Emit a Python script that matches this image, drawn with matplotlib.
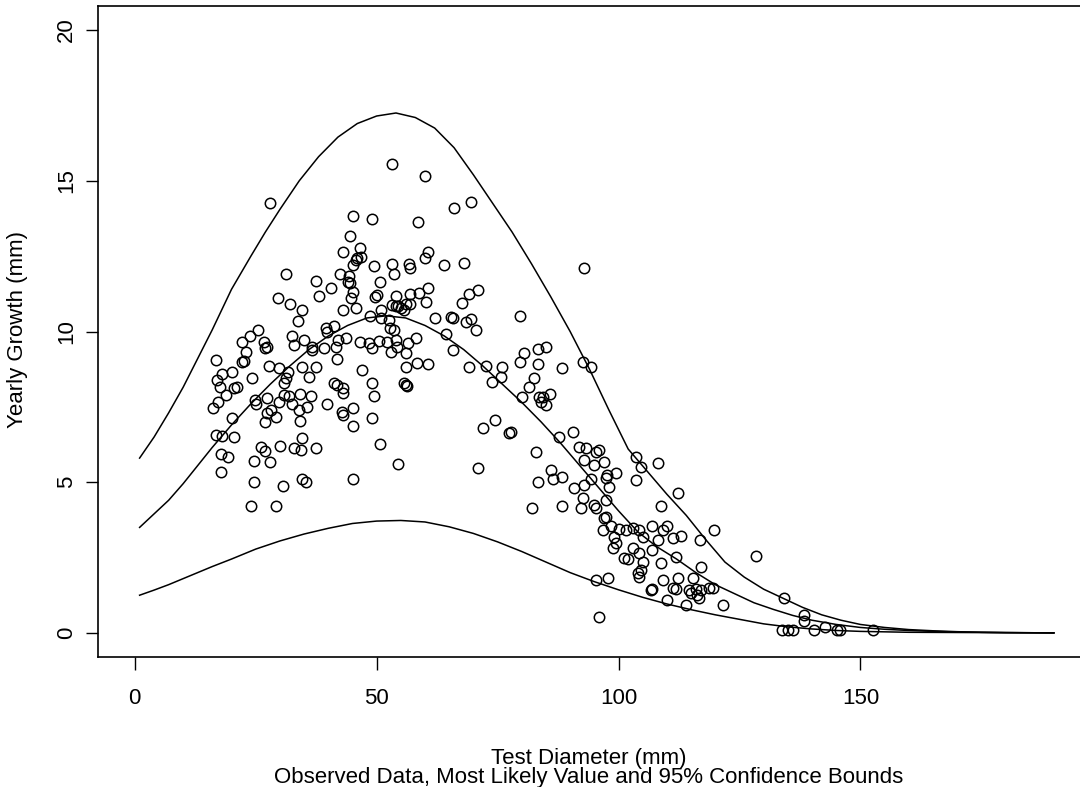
import numpy as np
import matplotlib
matplotlib.use("Agg")
import matplotlib.pyplot as plt

plt.rcParams['font.family'] = ['Liberation Sans', 'DejaVu Sans']

# most likely value and 95% bounds
curve_x_mid = [1, 4, 7, 10, 13, 16, 20, 24, 28, 32, 36, 40, 44, 48, 52, 56, 60, 64, 68, 72, 76, 80, 84, 88,
               92, 96, 100, 104, 108, 112, 116, 120, 124, 128, 132, 136, 140, 145, 150, 155, 160, 165, 170,
               175, 180, 190]
curve_y_mid = [3.5, 3.95, 4.4, 4.95, 5.55, 6.15, 6.9, 7.6, 8.25, 8.85, 9.4, 9.85, 10.2, 10.45, 10.52, 10.45,
               10.2, 9.85, 9.4, 8.85, 8.25, 7.65, 7.0, 6.3, 5.55, 4.8, 4.05, 3.35, 2.85, 2.45, 2.0, 1.6, 1.3,
               1.0, 0.78, 0.58, 0.42, 0.28, 0.18, 0.12, 0.08, 0.05, 0.03, 0.02, 0.01, 0.0]

curve_x_up = [1, 4, 7, 10, 13, 16, 20, 24, 27, 30, 34, 38, 42, 46, 50, 54, 58, 62, 66, 70, 74, 78, 82, 86,
              90, 94, 98, 102, 106, 110, 114, 118, 122, 126, 130, 134, 138, 142, 146, 150, 155, 160, 165,
              170, 175, 180, 190]
curve_y_up = [5.8, 6.5, 7.3, 8.15, 9.1, 10.05, 11.4, 12.5, 13.3, 14.05, 15.0, 15.8, 16.45, 16.9, 17.15, 17.25,
              17.1, 16.75, 16.1, 15.2, 14.25, 13.3, 12.25, 11.15, 10.0, 8.75, 7.4, 6.1, 5.35, 4.6, 3.9, 3.1,
              2.35, 1.85, 1.45, 1.15, 0.85, 0.6, 0.42, 0.28, 0.18, 0.11, 0.07, 0.04, 0.02, 0.01, 0.0]

curve_x_low = [1, 4, 7, 10, 13, 16, 20, 25, 30, 35, 40, 45, 50, 55, 60, 65, 70, 75, 80, 85, 90, 95, 100,
               105, 110, 115, 120, 125, 130, 135, 140, 145, 150, 160, 175, 190]
curve_y_low = [1.25, 1.42, 1.6, 1.8, 2.0, 2.2, 2.45, 2.78, 3.05, 3.28, 3.47, 3.63, 3.71, 3.73, 3.68, 3.52,
               3.3, 3.02, 2.7, 2.35, 2.0, 1.7, 1.43, 1.18, 0.96, 0.77, 0.6, 0.45, 0.3, 0.2, 0.13, 0.08, 0.05,
               0.02, 0.01, 0.0]

# observed data
obs_x = [
    53.2, 60.1, 27.9, 66.0, 69.6, 45.1, 49.0, 58.5, 44.5, 43.0, 46.6, 46.8, 46.0, 45.7, 60.6, 60.1,
    53.1, 56.7, 56.9, 49.4, 63.9, 68.1, 45.1, 31.2, 42.5, 44.3, 44.1, 44.4, 53.6, 37.4, 40.6, 38.1,
    50.7, 45.1, 44.6, 49.7, 50.1, 53.9, 56.9, 58.8, 60.6, 53.2, 53.9, 54.5, 55.1, 55.7, 56.0, 56.8,
    60.2, 29.6, 32.1, 34.6, 33.8, 43.1, 45.8, 50.8, 48.6, 50.8, 52.6, 52.7, 53.6, 62.1, 65.3, 65.8,
    68.4, 69.5, 70.6, 67.7, 69.0, 71.0, 64.3, 39.5, 39.7, 41.2, 25.5, 23.9, 22.2, 26.7, 27.4, 27.0,
    22.9, 22.2, 22.6, 16.7, 32.5, 35.0, 36.7, 39.1, 41.5, 43.6, 32.9, 36.7, 42.0, 46.6, 48.4, 49.1,
    50.5, 52.2, 53.9, 54.3, 56.5, 58.1, 53.0, 56.0, 65.7, 27.7, 29.8, 31.7, 34.6, 37.4, 41.9, 47.0,
    56.0, 58.4, 60.7, 69.0, 72.6, 17.0, 18.1, 20.1, 24.3, 31.2, 30.8, 36.0, 73.8, 41.2, 41.9, 43.0,
    49.1, 55.7, 56.0, 56.3, 20.5, 21.2, 17.7, 18.8,
    17.2, 16.1, 24.8, 25.1, 27.4, 29.8, 30.8, 31.9, 34.1, 36.4, 32.5, 33.9, 35.7, 29.1, 27.4, 27.0,
    28.1, 34.1, 20.1, 39.8, 42.9, 43.0, 45.1, 45.1, 43.0, 49.5, 49.1, 50.7, 16.7, 18.1, 20.5, 26.0,
    27.0, 30.0, 32.9, 34.3, 37.4, 34.6, 17.9, 19.3, 24.6, 27.9, 17.9, 24.6, 30.6, 34.6, 35.3, 45.1,
    24.0, 29.1, 54.4, 71.0, 72.0, 74.5,
    92.9, 79.7, 85.0, 83.4, 80.5, 79.7, 83.4, 88.4, 92.6, 94.3, 76.0, 75.7, 82.6, 81.5, 80.1, 83.6,
    84.3, 85.9,
    85.0, 83.9, 77.4, 77.7, 87.7, 90.5, 82.9, 91.9, 93.3, 95.3, 96.0, 92.9, 95.0, 97.0, 103.6, 104.6,
    108.1, 86.0, 86.5, 88.4, 83.4, 94.3, 92.9, 90.8, 97.7, 99.5, 98.1, 97.4, 103.6, 92.6, 95.0, 95.3,
    82.2, 88.4, 92.2, 97.4, 108.8, 112.4, 97.4, 97.0, 96.7, 98.4, 100.1, 101.5, 102.9, 104.3, 107.0, 109.1,
    110.1, 99.1, 105.0, 108.1, 111.2, 112.9, 99.5, 98.8, 102.9, 107.0, 104.3, 105.0, 108.8, 111.9, 117.0, 101.2,
    101.9, 104.1, 104.6, 104.3, 95.3, 97.9, 106.7, 107.0, 109.1, 112.4, 115.3, 119.8, 111.2, 111.9, 114.6, 116.0,
    117.0, 118.8, 119.5, 115.0, 116.3, 116.7, 110.1, 113.9, 121.5, 96.0, 116.8,
    128.5, 134.3, 138.4, 138.4, 133.9, 135.0, 136.0, 140.5, 142.6, 145.1, 145.7, 152.6,
]
obs_y = [
    15.56, 15.16, 14.28, 14.09, 14.29, 13.83, 13.72, 13.63, 13.17, 12.64, 12.78, 12.48, 12.43, 12.37, 12.65, 12.43,
    12.24, 12.24, 12.10, 12.17, 12.20, 12.26, 12.20, 11.90, 11.91, 11.85, 11.65, 11.60, 11.90, 11.67, 11.44, 11.18,
    11.63, 11.32, 11.10, 11.15, 11.21, 11.19, 11.24, 11.29, 11.45, 10.88, 10.85, 10.83, 10.77, 10.72, 10.90, 10.92,
    10.97, 11.12, 10.91, 10.71, 10.36, 10.71, 10.77, 10.71, 10.52, 10.44, 10.38, 10.11, 10.05, 10.44, 10.49, 10.44,
    10.33, 10.40, 10.05, 10.96, 11.24, 11.38, 9.92, 10.13, 10.00, 10.19, 10.05, 9.85, 9.64, 9.66, 9.50, 9.44,
    9.33, 9.00, 9.03, 9.05, 9.85, 9.72, 9.50, 9.44, 9.50, 9.77, 9.55, 9.39, 9.72, 9.66, 9.61, 9.44,
    9.69, 9.66, 9.72, 9.50, 9.63, 9.77, 9.33, 9.28, 9.39, 8.86, 8.78, 8.67, 8.83, 8.83, 9.08, 8.72,
    8.83, 8.94, 8.92, 8.81, 8.86, 8.39, 8.59, 8.67, 8.45, 8.45, 8.28, 8.50, 8.32, 8.28, 8.23, 8.12,
    8.28, 8.28, 8.23, 8.19, 8.12, 8.15, 8.17, 7.89,
    7.67, 7.45, 7.73, 7.60, 7.78, 7.67, 7.89, 7.86, 7.93, 7.86, 7.60, 7.40, 7.49, 7.17, 7.29, 7.01,
    7.40, 7.04, 7.12, 7.60, 7.34, 7.23, 7.45, 6.87, 7.97, 7.86, 7.12, 6.27, 6.57, 6.53, 6.51, 6.16,
    6.05, 6.20, 6.13, 6.07, 6.13, 6.46, 5.94, 5.85, 5.70, 5.68, 5.34, 5.00, 4.88, 5.10, 5.02, 5.10,
    4.21, 4.21, 5.60, 5.46, 6.79, 7.06,
    12.10, 10.51, 9.50, 9.41, 9.28, 8.98, 8.91, 8.78, 8.98, 8.81, 8.83, 8.50, 8.47, 8.17, 7.84, 7.84,
    7.82, 7.92,
    7.56, 7.67, 6.62, 6.68, 6.51, 6.66, 6.01, 6.18, 6.13, 6.01, 6.07, 5.74, 5.57, 5.68, 5.85, 5.52,
    5.65, 5.41, 5.10, 5.18, 5.02, 5.10, 4.91, 4.80, 5.24, 5.30, 4.85, 5.13, 5.07, 4.47, 4.25, 4.14,
    4.14, 4.21, 4.14, 4.41, 4.21, 4.63, 3.86, 3.80, 3.42, 3.53, 3.44, 3.42, 3.47, 3.42, 3.53, 3.42,
    3.55, 3.19, 3.19, 3.08, 3.14, 3.22, 2.98, 2.81, 2.81, 2.75, 2.64, 2.36, 2.33, 2.53, 2.20, 2.48,
    2.45, 1.98, 2.09, 1.87, 1.76, 1.81, 1.43, 1.45, 1.76, 1.81, 1.81, 3.42, 1.48, 1.45, 1.43, 1.45,
    1.43, 1.48, 1.48, 1.32, 1.26, 1.15, 1.09, 0.93, 0.93, 0.54, 3.08,
    2.55, 1.15, 0.60, 0.41, 0.10, 0.10, 0.10, 0.10, 0.21, 0.10, 0.10, 0.08,
]

x_ticks = [0, 50, 100, 150]
y_ticks = [0, 5, 10, 15, 20]

fig = plt.figure(figsize=(10.8, 7.87), dpi=100)
ax = fig.add_axes([98 / 1080, 1 - 657 / 787, (1080 - 98) / 1080, (657 - 6) / 787])

ax.plot(obs_x, obs_y, linestyle="none", marker="o", markersize=7.5,
        markerfacecolor="none", markeredgecolor="black", markeredgewidth=1.1)
ax.plot(curve_x_up, curve_y_up, color="black", linewidth=1.1)
ax.plot(curve_x_mid, curve_y_mid, color="black", linewidth=1.1)
ax.plot(curve_x_low, curve_y_low, color="black", linewidth=1.1)

ax.set_xlim(-7.6, 195.4)
ax.set_ylim(-0.8, 20.8)
ax.spines["right"].set_visible(False)
ax.set_xticks(x_ticks)
ax.set_yticks(y_ticks)
ax.set_yticklabels([str(v) for v in y_ticks], rotation=90, va="center")
ax.tick_params(axis="both", direction="out", length=9, width=1, labelsize=16, colors="black")
ax.tick_params(axis="x", pad=13)
ax.tick_params(axis="y", pad=6)
for s in ax.spines.values():
    s.set_linewidth(1.2)

fig.text(18 / 1080, 1 - 330 / 787, "Yearly Growth (mm)", rotation=90, ha="center", va="center", fontsize=16)
fig.text(589 / 1080, 1 - 764 / 787, "Test Diameter (mm)", ha="center", va="baseline", fontsize=16)
fig.text(589 / 1080, 1 - 783 / 787, "Observed Data, Most Likely Value and 95% Confidence Bounds",
         ha="center", va="baseline", fontsize=16)

fig.savefig("out.png", dpi=100)
